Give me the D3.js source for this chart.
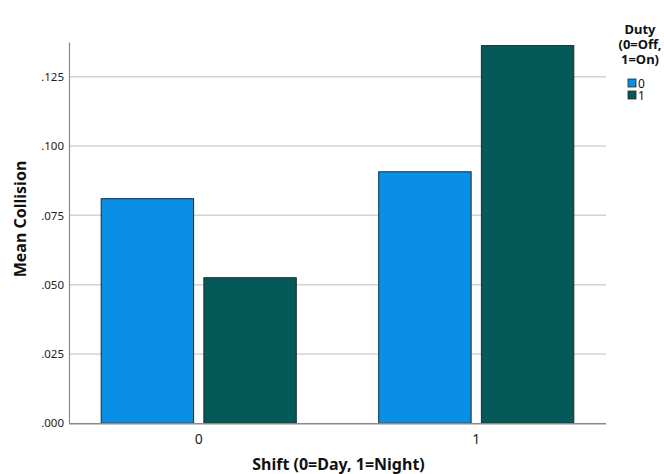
<!DOCTYPE html>
<html>
<head>
<meta charset="utf-8">
<script src="https://cdn.jsdelivr.net/npm/d3@7"></script>
<style>
  html, body { margin: 0; padding: 0; background: #fff; }
  svg { display: block; font-family: "Noto Sans", "Open Sans", sans-serif; }
</style>
</head>
<body>
<svg id="chart" width="664" height="474"></svg>
<script>
const shifts = ["0", "1"];
const duties = ["0", "1"];
const dutyColors = ["#0a8fe6", "#035a58"];
// Mean Collision by shift (rows) and duty (columns)
const meanDuty0 = [0.081, 0.0907];
const meanDuty1 = [0.0525, 0.1362];
const yTicks = [0, 0.025, 0.05, 0.075, 0.1, 0.125];
const yMax = 0.1375;

(function () {
const svg = d3.select("#chart");
const mLeft = 69, mRight = 606, mTop = 42, mBottom = 423.3;

const x = d3.scaleBand().domain(shifts).range([mLeft, mRight])
  .paddingInner(0.297).paddingOuter(0.116);
const xs = d3.scaleBand().domain(duties).range([0, x.bandwidth()]).paddingInner(0.1).paddingOuter(0);
const y = d3.scaleLinear().domain([0, yMax]).range([mBottom, mTop]);
const color = d3.scaleOrdinal().domain(duties).range(dutyColors);

const fmt = v => d3.format(".3f")(v).replace(/^0/, "");

// gridlines
svg.append("g").selectAll("line").data(yTicks.filter(d => d > 0)).join("line")
  .attr("x1", mLeft).attr("x2", mRight)
  .attr("y1", d => y(d)).attr("y2", d => y(d))
  .attr("stroke", "#d3d3d3").attr("stroke-width", 1.5);

// y axis
const yAxis = svg.append("g").attr("transform", `translate(${mLeft},0)`)
  .call(d3.axisLeft(y).tickValues(yTicks).tickFormat(fmt).tickSize(0).tickPadding(5));
yAxis.select(".domain").attr("stroke", "#8a8a8a").attr("stroke-width", 1.2);
yAxis.selectAll("text").attr("font-size", 11.5).attr("fill", "#222")
  .attr("font-family", "'Noto Sans', sans-serif");

// bars
const rows = shifts.map((s, i) => ({ shift: s, values: [meanDuty0[i], meanDuty1[i]] }));
svg.append("g").selectAll("g").data(rows).join("g")
  .attr("transform", d => `translate(${x(d.shift)},0)`)
  .selectAll("rect").data(d => d.values.map((v, j) => ({ duty: duties[j], value: v })))
  .join("rect")
  .attr("x", d => xs(d.duty))
  .attr("width", xs.bandwidth())
  .attr("y", d => y(d.value))
  .attr("height", d => y(0) - y(d.value))
  .attr("fill", d => color(d.duty))
  .attr("stroke", "#1e2a2a").attr("stroke-width", 1);

// x axis
const xAxis = svg.append("g").attr("transform", `translate(0,${mBottom})`)
  .call(d3.axisBottom(x).tickSize(0).tickPadding(11));
xAxis.select(".domain").attr("stroke", "#8a8a8a").attr("stroke-width", 1.5)
  .attr("d", `M${mLeft},0.5H${mRight}`);
xAxis.selectAll("text").attr("font-size", 14).attr("fill", "#222")
  .attr("font-family", "'Noto Sans', sans-serif");

// axis titles
svg.append("text").attr("x", (mLeft + mRight) / 2 + 1).attr("y", 470)
  .attr("text-anchor", "middle").attr("font-size", 16).attr("font-weight", "bold")
  .attr("fill", "#111").text("Shift (0=Day, 1=Night)");
svg.append("text").attr("transform", "translate(26,219) rotate(-90)")
  .attr("text-anchor", "middle").attr("font-size", 16).attr("font-weight", "bold")
  .attr("fill", "#111").text("Mean Collision");

// legend
const legendTitle = ["Duty", "(0=Off,", "1=On)"];
svg.append("text").attr("text-anchor", "middle").attr("font-size", 13)
  .attr("font-weight", "bold").attr("fill", "#111")
  .selectAll("tspan").data(legendTitle).join("tspan")
  .attr("x", 640).attr("y", (d, i) => 34 + i * 15).text(d => d);
const leg = svg.append("g").selectAll("g").data(duties).join("g")
  .attr("transform", (d, i) => `translate(628,${79 + i * 12})`);
leg.append("rect").attr("width", 8).attr("height", 8)
  .attr("fill", d => color(d)).attr("stroke", "#1e2a2a").attr("stroke-width", 0.8);
svg.append("text").attr("font-size", 12).attr("fill", "#111")
  .selectAll("tspan").data(duties).join("tspan")
  .attr("x", 638).attr("y", (d, i) => 88 + i * 12).text(d => d);
})();
</script>
</body>
</html>
